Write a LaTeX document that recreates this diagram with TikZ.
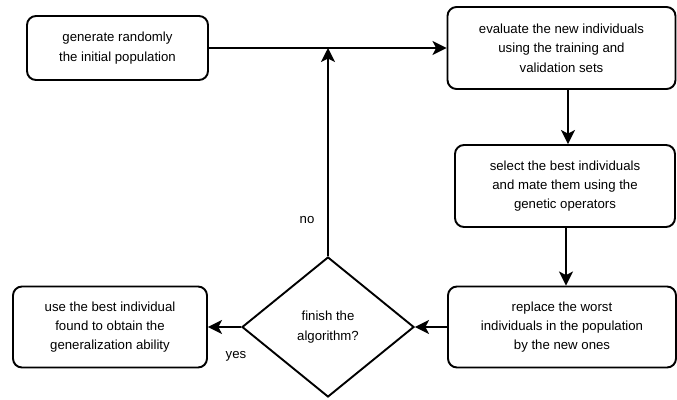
\documentclass[tikz,border=0pt]{standalone}
\usepackage{fontspec}
\setmainfont{Liberation Sans}
\usetikzlibrary{arrows.meta,shapes.geometric}
\begin{document}
\begin{tikzpicture}[x=1pt,y=-1pt,
  box/.style={draw=black, line width=1.9pt, rounded corners=9pt, align=center,
    inner sep=0pt, font=\fontsize{13.2}{19.3}\selectfont},
  dec/.style={draw=black, line width=1.9pt, diamond, align=center, inner sep=0pt,
    minimum width=172pt, minimum height=140pt, font=\fontsize{13.2}{19.3}\selectfont},
  lbl/.style={font=\fontsize{13.2}{19.3}\selectfont, inner sep=0pt},
  arr/.style={line width=1.9pt, -{Stealth[length=14pt,width=14pt,inset=3.5pt]}}]
\useasboundingbox (0,0) rectangle (677,399);
\node[box, minimum width=181pt, minimum height=64pt] (b1) at (117.5,48)
  {generate randomly\\the initial population};
\node[box, minimum width=228pt, minimum height=82pt] (b2) at (561.5,48)
  {evaluate the new individuals\\using the training and\\validation sets};
\node[box, minimum width=220pt, minimum height=82pt] (b3) at (565,186)
  {select the best individuals\\and mate them using the\\genetic operators};
\node[box, minimum width=228pt, minimum height=81pt] (b4) at (562,327)
  {replace the worst\\individuals in the population\\by the new ones};
\node[box, minimum width=194pt, minimum height=81pt] (b5) at (110,327)
  {use the best individual\\found to obtain the\\generalization ability};
\node[dec] (d) at (328,327) {finish the\\algorithm?};
\coordinate (j) at (328,48);
\coordinate (cA) at (568,0);
\coordinate (cB) at (566,0);
\draw[arr] (b1) -- (b2);
\draw[arr] (d.north) -- (j);
\draw[arr] (b2.south -| cA) -- (b3.north -| cA);
\draw[arr] (b3.south -| cB) -- (b4.north -| cB);
\draw[arr] (b4) -- (d);
\draw[arr] (d) -- (b5);
\node[lbl] (no) at (307,220) {no};
\node[lbl] (yes) at (236,356) {yes};
\end{tikzpicture}
\end{document}
